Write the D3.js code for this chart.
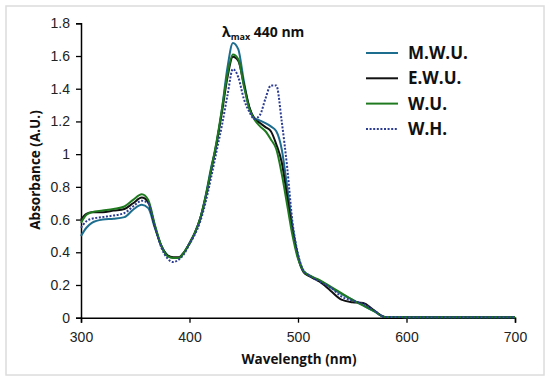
<!DOCTYPE html>
<html>
<head>
<meta charset="utf-8">
<script src="https://cdn.jsdelivr.net/npm/d3@7"></script>
<style>
  body { margin: 0; background: #fff; }
  svg { display: block; }
</style>
</head>
<body>
<div id="chart"></div>
<script>

// wavelengths (nm) shared by all spectra
var wavelengths = [300, 305, 310, 320, 330, 340, 348, 356, 362, 368, 374, 380, 385, 390, 395,
  400, 405, 410, 415, 420, 425, 430, 435, 440, 445, 450, 455, 460, 465, 470, 475, 480, 485,
  490, 495, 500, 505, 510, 520, 530, 540, 550, 560, 570, 580, 590, 600, 650, 700];

// absorbance values
var mwu = [0.50, 0.55, 0.58, 0.60, 0.605, 0.615, 0.66, 0.69, 0.67, 0.55, 0.44, 0.38, 0.365, 0.365, 0.40,
  0.455, 0.52, 0.61, 0.75, 0.92, 1.06, 1.28, 1.53, 1.68, 1.64, 1.45, 1.29, 1.22, 1.205, 1.19, 1.17, 1.14, 1.03,
  0.80, 0.56, 0.38, 0.285, 0.26, 0.225, 0.185, 0.145, 0.11, 0.075, 0.04, 0.005, 0.005, 0.003, 0.002, 0.002];

var ewu = [0.60, 0.635, 0.645, 0.645, 0.655, 0.665, 0.70, 0.735, 0.705, 0.56, 0.44, 0.38, 0.37, 0.37, 0.40,
  0.455, 0.52, 0.61, 0.74, 0.90, 1.07, 1.26, 1.47, 1.595, 1.57, 1.43, 1.29, 1.215, 1.19, 1.165, 1.14, 1.06, 0.95,
  0.74, 0.53, 0.37, 0.28, 0.255, 0.22, 0.165, 0.11, 0.095, 0.09, 0.045, 0.005, 0.005, 0.003, 0.002, 0.002];

var wu = [0.58, 0.63, 0.645, 0.655, 0.665, 0.68, 0.72, 0.755, 0.72, 0.57, 0.44, 0.375, 0.365, 0.365, 0.40,
  0.455, 0.52, 0.61, 0.745, 0.91, 1.08, 1.28, 1.49, 1.61, 1.58, 1.42, 1.28, 1.21, 1.17, 1.14, 1.09, 1.03, 0.88,
  0.69, 0.50, 0.36, 0.285, 0.26, 0.23, 0.19, 0.15, 0.11, 0.075, 0.04, 0.005, 0.005, 0.003, 0.002, 0.002];

var wh = [0.55, 0.59, 0.605, 0.615, 0.625, 0.64, 0.68, 0.715, 0.70, 0.56, 0.43, 0.36, 0.34, 0.355, 0.39,
  0.45, 0.51, 0.59, 0.71, 0.86, 1.02, 1.18, 1.36, 1.52, 1.47, 1.34, 1.26, 1.215, 1.24, 1.34, 1.42, 1.42, 1.20,
  0.92, 0.58, 0.39, 0.29, 0.26, 0.22, 0.185, 0.13, 0.105, 0.085, 0.045, 0.005, 0.005, 0.003, 0.002, 0.002];

var xTicks = [300, 400, 500, 600, 700];
var yTicks = [0, 0.2, 0.4, 0.6, 0.8, 1, 1.2, 1.4, 1.6, 1.8];

var series = [
  { name: "M.W.U.", values: mwu, color: "#1d6d8f", dash: null },
  { name: "E.W.U.", values: ewu, color: "#111111", dash: null },
  { name: "W.U.",   values: wu,  color: "#1f7a1f", dash: null },
  { name: "W.H.",   values: wh,  color: "#2c3c92", dash: "2,1.6" }
];

var width = 550, height = 384;

var svg = d3.select("#chart").append("svg")
  .attr("width", width)
  .attr("height", height);

// white card with a light grey frame
svg.append("rect")
  .attr("x", 6).attr("y", 6)
  .attr("width", 538).attr("height", 369)
  .attr("fill", "#fff")
  .attr("stroke", "#dcdcdc")
  .attr("stroke-width", 1.5);

var x = d3.scaleLinear().domain([300, 700]).range([81, 515]);
var y = d3.scaleLinear().domain([0, 1.8]).range([317.7, 23.3]);

// axes
var xAxis = svg.append("g")
  .attr("transform", "translate(0," + y(0) + ")")
  .call(d3.axisBottom(x).tickValues(xTicks).tickSize(5).tickPadding(6).tickFormat(d3.format("d")));

var yAxis = svg.append("g")
  .attr("transform", "translate(" + x(300) + ",0)")
  .call(d3.axisLeft(y).tickValues(yTicks).tickSize(5).tickPadding(6).tickFormat(function(d) { return String(d); }));

[xAxis, yAxis].forEach(function(a) {
  a.select(".domain").attr("stroke", "#000").attr("stroke-width", 1.5);
  a.selectAll(".tick line").attr("stroke", "#000").attr("stroke-width", 1.3);
  a.selectAll("text")
    .attr("fill", "#222")
    .style("font-family", "'Liberation Sans', Arial, sans-serif")
    .style("font-size", "14px");
});
xAxis.selectAll("text").attr("dy", "0.95em");

// spectra
var line = d3.line()
  .x(function(d) { return x(d.wl); })
  .y(function(d) { return y(d.a); })
  .curve(d3.curveMonotoneX);

series.forEach(function(s) {
  var pts = wavelengths.map(function(wl, i) { return { wl: wl, a: s.values[i] }; });
  svg.append("path")
    .datum(pts)
    .attr("fill", "none")
    .attr("stroke", s.color)
    .attr("stroke-width", 2)
    .attr("stroke-dasharray", s.dash)
    .attr("d", line);
});

// axis titles
var titleFont = "'Open Sans', 'Noto Sans', sans-serif";

svg.append("text")
  .attr("x", 299).attr("y", 364)
  .attr("text-anchor", "middle")
  .style("font-family", titleFont)
  .style("font-weight", "bold")
  .style("font-size", "13.5px")
  .attr("fill", "#111")
  .text("Wavelength (nm)");

svg.append("text")
  .attr("transform", "translate(40,170) rotate(-90)")
  .attr("text-anchor", "middle")
  .style("font-family", titleFont)
  .style("font-weight", "bold")
  .style("font-size", "13.5px")
  .attr("fill", "#111")
  .text("Absorbance (A.U.)");

// lambda max annotation
var ann = svg.append("text")
  .attr("x", 222).attr("y", 36.5)
  .style("font-family", titleFont)
  .style("font-weight", "bold")
  .style("font-size", "14px")
  .attr("fill", "#111");
ann.append("tspan").text("λ");
ann.append("tspan").attr("dy", 3).style("font-size", "9px").text("max");
ann.append("tspan").attr("dy", -3).text(" 440 nm");

// legend
var legend = svg.append("g");
series.forEach(function(s, i) {
  var ly = 53 + i * 25.3;
  legend.append("line")
    .attr("x1", 366).attr("x2", 398)
    .attr("y1", ly).attr("y2", ly)
    .attr("stroke", s.color)
    .attr("stroke-width", 2)
    .attr("stroke-dasharray", s.dash);
  legend.append("text")
    .attr("x", 408).attr("y", ly)
    .attr("dy", "0.36em")
    .style("font-family", titleFont)
    .style("font-weight", "bold")
    .style("font-size", "17px")
    .attr("fill", "#111")
    .text(s.name);
});

</script>
</body>
</html>
